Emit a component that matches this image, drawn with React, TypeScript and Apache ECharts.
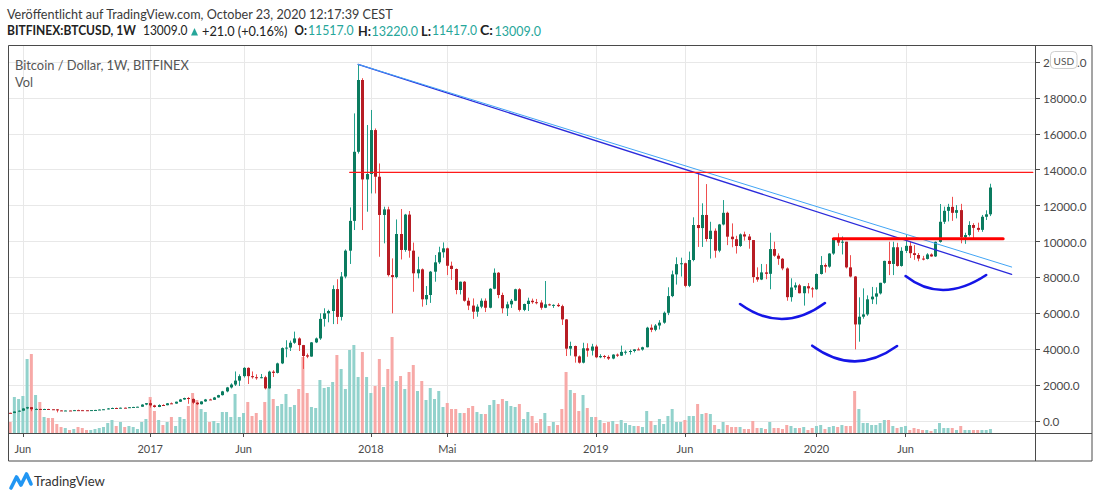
import React, { useEffect, useRef } from "react";
import * as echarts from "echarts";

// ---------- data ----------
const START_DATE = "2016-05-16"; // first weekly candle (Monday)
const EMPTY_WEEKS_RIGHT = 10; // empty weeks to the right of the last candle

// weekly candles [open, high, low, close]
const CANDLES_2016 = [
  [455, 460, 436, 443], [443, 535, 440, 528], [528, 592, 515, 575], [575, 720, 568, 700],
  [700, 790, 660, 770], [770, 780, 545, 655], [655, 705, 615, 672], [672, 680, 630, 645],
  [645, 680, 640, 668], [668, 680, 650, 655], [655, 665, 640, 650], [650, 655, 480, 590],
  [590, 600, 565, 580], [580, 590, 565, 585], [585, 590, 570, 578], [578, 615, 570, 605],
  [605, 630, 600, 603], [603, 615, 595, 600], [600, 608, 590, 598], [598, 612, 595, 608],
  [608, 620, 605, 615], [615, 645, 612, 638], [638, 660, 630, 655], [655, 720, 650, 700],
  [700, 745, 690, 725], [725, 745, 695, 705], [705, 750, 700, 740], [740, 750, 725, 732],
  [732, 775, 728, 768], [768, 790, 755, 782], [782, 800, 770, 795], [795, 935, 790, 915],
  [915, 1000, 880, 995],
];
const CANDLES_2017 = [
  [995, 1180, 750, 870], [870, 905, 745, 780], [780, 930, 770, 890], [890, 930, 870, 880],
  [880, 1000, 875, 985], [985, 1030, 960, 970], [970, 1080, 960, 1075], [1075, 1230, 1060, 1200],
  [1200, 1300, 1180, 1280], [1280, 1330, 960, 1230], [1230, 1260, 940, 1020], [1020, 1060, 890, 935],
  [935, 1100, 920, 1090], [1090, 1230, 1070, 1200], [1200, 1240, 1170, 1180], [1180, 1340, 1170, 1310],
  [1310, 1460, 1300, 1440], [1440, 1680, 1420, 1650], [1650, 1900, 1600, 1870], [1870, 2100, 1810, 2030],
  [2030, 2760, 1950, 2250], [2250, 2600, 1950, 2500], [2500, 3000, 2420, 2960], [2960, 2990, 2060, 2500],
  [2500, 2760, 2360, 2440], [2440, 2600, 2300, 2410], [2410, 2620, 2380, 2440], [2440, 2520, 1760, 1820],
  [1820, 2800, 1800, 2750], [2750, 2830, 2450, 2680], [2680, 3250, 2650, 3210], [3210, 4100, 3170, 4060],
  [4060, 4500, 3550, 4090], [4090, 4480, 3900, 4360], [4360, 4980, 4300, 4600], [4600, 4660, 3900, 4230],
  [4230, 4240, 2900, 3620], [3660, 3760, 3500, 3590], [3590, 4400, 3580, 4380], [4380, 4650, 4340, 4600],
  [4600, 6000, 4520, 5690], [5690, 6280, 5260, 6000], [6000, 6200, 5500, 6130], [6130, 7560, 5400, 7350],
  [7350, 7900, 5400, 5800], [5800, 8300, 5600, 8050], [8050, 9560, 7950, 9490], [9490, 11900, 8750, 11150],
  [11150, 17140, 10640, 15000], [15000, 19870, 14900, 19000], [19000, 19100, 10640, 13460], [13460, 16490, 11660, 13760],
];
const CANDLES_2018 = [
  [13760, 17330, 12680, 16210], [16210, 16300, 12680, 13610], [13610, 14350, 9150, 11480], [11480, 11940, 9900, 11790],
  [11790, 11940, 8050, 8130], [8130, 9060, 6000, 8020], [8020, 11230, 7950, 10420], [10420, 11810, 9000, 9530],
  [9530, 11540, 9430, 11500], [11500, 11700, 9100, 9490], [9490, 9940, 7200, 8230], [8230, 9150, 7950, 8450],
  [8450, 8500, 6370, 6780], [6780, 7520, 6460, 7020], [7020, 8360, 6580, 8320], [8320, 9250, 7760, 8840],
  [8840, 9710, 8750, 9400], [9400, 9950, 9100, 9620], [9620, 9660, 8130, 8650], [8650, 8880, 7860, 8470],
  [8470, 8500, 7060, 7300], [7300, 7770, 7050, 7760], [7760, 7800, 6650, 6700], [6700, 6870, 6180, 6430],
  [6430, 6830, 5690, 6090], [6090, 6500, 5810, 6370], [6370, 6830, 6280, 6700], [6700, 6830, 6070, 6310],
  [6310, 7400, 6280, 7370], [7370, 8500, 7340, 8260], [8260, 8300, 6840, 7020], [7020, 7150, 6000, 6280],
  [6280, 6650, 5850, 6500], [6500, 6800, 6300, 6700], [6700, 7370, 6680, 7340], [7340, 7400, 6100, 6190],
  [6190, 6540, 6120, 6520], [6520, 6870, 6130, 6700], [6700, 6820, 6530, 6620], [6620, 6800, 6500, 6600],
  [6600, 6730, 6200, 6310], [6310, 7800, 6290, 6500], [6500, 6540, 6420, 6450], [6450, 6500, 6300, 6470],
  [6470, 6570, 6350, 6400], [6400, 6480, 5350, 5660], [5660, 5680, 3620, 4030], [4030, 4420, 3640, 4180],
  [4180, 4200, 3250, 3600], [3600, 3650, 3200, 3250], [3250, 4360, 3210, 4050], [4050, 4330, 3580, 3920],
];
const CANDLES_2019 = [
  [3920, 4300, 3650, 4150], [4150, 4250, 3500, 3550], [3550, 3720, 3500, 3620], [3620, 3680, 3480, 3570],
  [3570, 3660, 3400, 3480], [3480, 3720, 3440, 3700], [3700, 3760, 3570, 3640], [3640, 4200, 3620, 3850],
  [3850, 3940, 3700, 3860], [3860, 3980, 3700, 3900], [3900, 4000, 3820, 3990], [3990, 4090, 3950, 3980],
  [3980, 4140, 3920, 4110], [4110, 5250, 4100, 5200], [5200, 5380, 4950, 5080], [5080, 5400, 5000, 5320],
  [5320, 5620, 5100, 5480], [5480, 6100, 5420, 6030], [6030, 7450, 5900, 6960], [6960, 8380, 6900, 8170],
  [8170, 9120, 7600, 8740], [8740, 9100, 8050, 8790], [8790, 8820, 7450, 7530], [7530, 9440, 7460, 8970],
  [8970, 11350, 8900, 10920], [10920, 13850, 9700, 10750], [10750, 12130, 9700, 11480], [11480, 13200, 10000, 10140],
  [10140, 11100, 9050, 10600], [10600, 10730, 9100, 9490], [9490, 10980, 9400, 10950], [10950, 12310, 10900, 11600],
  [11600, 11660, 9800, 10270], [10270, 11010, 9680, 10130], [10130, 10320, 9330, 9750], [9750, 10450, 9700, 10400],
  [10400, 10550, 10050, 10280], [10280, 10420, 9600, 10080], [10080, 10080, 7700, 8020], [8020, 8560, 7760, 7880],
  [7880, 8750, 7850, 8280], [8280, 8740, 7900, 8200], [8200, 10490, 7340, 9580], [9580, 9990, 9150, 9210],
  [9210, 9340, 8700, 9040], [9040, 9080, 8400, 8500], [8500, 8560, 6700, 6900], [6900, 7950, 6650, 7440],
  [7440, 7720, 7300, 7560], [7560, 7640, 7110, 7120], [7120, 7520, 6430, 7510], [7510, 7690, 7110, 7390],
];
const CANDLES_2020 = [
  [7390, 7470, 6880, 7340], [7340, 8220, 7310, 8190], [8190, 9190, 8160, 8690], [8690, 8780, 8270, 8600],
  [8600, 9350, 8540, 9330], [9330, 10180, 9260, 10170], [10170, 10460, 9760, 9940], [9940, 10280, 9280, 9990],
  [9990, 9990, 8500, 8560], [8560, 9240, 8000, 8050], [8050, 8080, 3990, 5380], [5380, 6890, 4420, 5810],
  [5810, 7390, 5700, 5940], [5940, 7000, 5860, 6780], [6780, 7470, 6520, 6930], [6930, 7450, 6500, 7110],
  [7110, 7700, 7050, 7700], [7700, 8930, 7650, 8920], [8920, 9990, 8130, 8750], [8750, 9990, 8130, 9680],
  [9680, 9930, 8600, 8640], [8640, 9680, 8600, 9480], [9480, 10360, 9360, 9760], [9760, 10000, 9080, 9350],
  [9350, 9800, 8980, 9250], [9250, 9360, 8900, 9050], [9050, 9200, 8950, 9030], [9030, 9350, 9000, 9280],
  [9280, 9340, 9150, 9170], [9170, 10000, 9140, 9980], [9980, 12090, 9940, 11100], [11100, 11940, 10980, 11710],
  [11710, 12100, 11120, 11930], [11930, 12490, 11150, 11600], [11600, 12030, 11290, 11750], [11750, 12100, 9900, 10240],
  [10240, 10490, 9870, 10360], [10360, 11130, 10280, 10920], [10920, 11020, 10180, 10760], [10760, 11050, 10540, 10650],
  [10650, 11480, 10540, 11380], [11380, 11740, 11200, 11517], [11517, 13220, 11417, 13009],
];

// weekly volume (thousand BTC)
const VOLUME_2016 = [11, 36, 34, 37, 74, 79, 38, 31, 16, 15, 15, 9, 6, 5, 3, 4, 6, 5, 3, 3, 4, 5, 6, 10, 13, 7, 11, 6, 7, 6, 4, 11, 14];
const VOLUME_2017 = [36, 22, 13, 8, 11, 16, 7, 16, 14, 27, 40, 33, 24, 21, 11, 12, 10, 21, 21, 16, 39, 16, 20, 31, 17, 20, 13, 31, 45, 34, 27, 29, 39, 26, 28, 44, 76, 40, 26, 25, 53, 45, 46, 51, 78, 64, 44, 83, 88, 56, 81, 56];
const VOLUME_2018 = [40, 47, 74, 46, 64, 96, 52, 57, 44, 61, 68, 42, 52, 33, 45, 34, 42, 26, 30, 24, 24, 20, 20, 25, 27, 21, 19, 19, 28, 33, 29, 34, 32, 27, 26, 29, 14, 21, 17, 10, 14, 20, 7, 11, 8, 24, 61, 43, 40, 22, 38, 25];
const VOLUME_2019 = [16, 16, 13, 10, 11, 12, 9, 13, 10, 8, 7, 7, 6, 22, 12, 8, 14, 9, 17, 24, 11, 11, 13, 17, 17, 29, 19, 20, 19, 8, 4, 11, 8, 6, 6, 6, 4, 4, 12, 5, 5, 4, 11, 5, 5, 4, 8, 7, 5, 5, 6, 3];
const VOLUME_2020 = [5, 7, 8, 4, 6, 7, 6, 8, 7, 7, 42, 24, 10, 10, 8, 8, 10, 13, 13, 7, 5, 6, 7, 3, 5, 4, 3, 3, 2, 4, 10, 5, 5, 5, 3, 7, 3, 3, 3, 3, 3, 3, 4];

// time-axis labels: [week, label]
const TIME_TICKS: [string, string][] = [
  ["2016-06-06", "Jun"], ["2017-01-02", "2017"], ["2017-06-05", "Jun"], ["2018-01-01", "2018"],
  ["2018-05-07", "Mai"], ["2019-01-07", "2019"], ["2019-06-03", "Jun"], ["2020-01-06", "2020"], ["2020-06-01", "Jun"],
];
const PRICE_STEP = 2000;
const PRICE_MAX = 20950;
const VOLUME_MAX = 388;

// drawings (in data coordinates)
const TREND_LINES: [[string, number], [string, number]][] = [
  [["2017-12-11", 19872], ["2020-11-23", 8173]],
  [["2017-12-11", 19872], ["2020-11-23", 8579]],
];
const LEVELS: [string, string, number][] = [
  ["2017-11-27", "2020-12-28", 13855],
  ["2020-02-03", "2020-11-09", 10156],
];
const ARCS: [string, number][][] = [
  [["2019-09-02", 6518], ["2019-11-11", 5682], ["2020-01-20", 6574]],
  [["2019-12-30", 4195], ["2020-03-09", 3326], ["2020-05-18", 4178]],
  [["2020-06-01", 8078], ["2020-08-03", 7298], ["2020-10-12", 8134]],
];

// ---------- derived ----------
const CANDLES = [...CANDLES_2016, ...CANDLES_2017, ...CANDLES_2018, ...CANDLES_2019, ...CANDLES_2020];
const VOLUME = [...VOLUME_2016, ...VOLUME_2017, ...VOLUME_2018, ...VOLUME_2019, ...VOLUME_2020];

const DATES: string[] = (() => {
  const out: string[] = [];
  const [y, m, d] = START_DATE.split("-").map(Number);
  const t0 = Date.UTC(y, m - 1, d);
  for (let k = 0; k < CANDLES.length + EMPTY_WEEKS_RIGHT; k++) {
    out.push(new Date(t0 + k * 7 * 86400000).toISOString().slice(0, 10));
  }
  return out;
})();
const idx = (date: string) => DATES.indexOf(date);
const TICK_LABEL: Record<string, string> = Object.fromEntries(TIME_TICKS);
const TICK_INDEX = new Set(TIME_TICKS.map(([d]) => idx(d)));

const UP_BODY = "#0b7b5f";
const UP_WICK = "#22a08c";
const DOWN_BODY = "#b71c24";
const DOWN_WICK = "#ef4f4f";
const UP_VOL = "#92d2cc";
const DOWN_VOL = "#f7a9a7";
const TEAL = "#26a69a";
const FAMILY = "Lato, 'Noto Sans', sans-serif";
const FRAME = "#4a4a4a";

let measureCtx: CanvasRenderingContext2D | null = null;
function fitScale(text: string, font: string, width: number) {
  if (!measureCtx) measureCtx = document.createElement("canvas").getContext("2d");
  if (!measureCtx) return 1;
  measureCtx.font = font;
  const w = measureCtx.measureText(text).width;
  if (!w) return 1;
  return Math.max(0.7, Math.min(1.15, width / w));
}
function label(text: string, x: number, y: number, width: number, size: number, color: string, bold = false) {
  const font = `${bold ? "bold " : ""}${size}px ${FAMILY}`;
  return {
    type: "text",
    x,
    y,
    scaleX: fitScale(text, font, width),
    z: 100,
    silent: true,
    style: { text, font, fill: color, align: "left", verticalAlign: "middle" },
  };
}

function buildOption() {
  const candleData = CANDLES.map(([o, h, l, c], i) => [i, o, h, l, c]);
  const volData = VOLUME.map((v, i) => ({
    value: v,
    itemStyle: { color: CANDLES[i][3] >= CANDLES[i][0] ? UP_VOL : DOWN_VOL },
  }));

  const lineSeries = (data: number[][], stroke: string, lineWidth: number) => ({
    type: "custom",
    xAxisIndex: 0,
    yAxisIndex: 0,
    z: 5,
    silent: true,
    clip: false,
    encode: { x: [0, 2], y: [1, 3] },
    data,
    renderItem: (_p: any, api: any) => {
      const a = api.coord([api.value(0), api.value(1)]);
      const b = api.coord([api.value(2), api.value(3)]);
      return {
        type: "line",
        shape: { x1: a[0], y1: a[1], x2: b[0], y2: b[1] },
        style: { stroke, lineWidth, lineCap: "round" },
      };
    },
  });

  return {
    animation: false,
    backgroundColor: "#ffffff",
    grid: [
      { left: 8, top: 45, width: 1027, height: 376 },
      { left: 8, top: 45, width: 1027, height: 388 },
    ],
    xAxis: [
      { type: "category", gridIndex: 0, data: DATES, boundaryGap: true, show: false },
      {
        type: "category",
        gridIndex: 1,
        data: DATES,
        boundaryGap: true,
        axisLine: { show: false },
        axisTick: {
          show: true,
          alignWithLabel: true,
          length: 4,
          interval: (i: number) => TICK_INDEX.has(i),
          lineStyle: { color: FRAME },
        },
        axisLabel: {
          interval: (i: number) => TICK_INDEX.has(i),
          formatter: (v: string) => TICK_LABEL[v] || "",
          color: "#4a4a4a",
          fontSize: 11,
          fontFamily: FAMILY,
          margin: 10,
        },
        splitLine: { show: false },
      },
    ],
    yAxis: [
      {
        type: "value",
        gridIndex: 0,
        position: "right",
        min: 0,
        max: PRICE_MAX,
        interval: PRICE_STEP,
        axisLine: { show: false },
        axisTick: { show: true, length: 5, lineStyle: { color: FRAME } },
        axisLabel: {
          formatter: (v: number) => (v % PRICE_STEP === 0 ? v.toFixed(1) : ""),
          color: "#4a4a4a",
          fontSize: 11.7,
          fontFamily: FAMILY,
          margin: 8,
        },
        splitLine: { show: true, lineStyle: { color: "#e8e8e8", width: 1 } },
      },
      { type: "value", gridIndex: 1, min: 0, max: VOLUME_MAX, show: false, splitLine: { show: false } },
    ],
    series: [
      {
        type: "custom",
        name: "grid",
        xAxisIndex: 1,
        yAxisIndex: 1,
        z: 0,
        silent: true,
        data: [...TICK_INDEX].map((i) => [i, 0]),
        encode: { x: 0, y: 1 },
        renderItem: (params: any, api: any) => {
          const x = Math.round(api.coord([api.value(0), 0])[0]) + 0.5;
          const cs = params.coordSys;
          return {
            type: "line",
            shape: { x1: x, y1: cs.y, x2: x, y2: cs.y + cs.height },
            style: { stroke: "#e8e8e8", lineWidth: 1 },
          };
        },
      },
      {
        type: "bar",
        name: "Vol",
        xAxisIndex: 1,
        yAxisIndex: 1,
        z: 1,
        barWidth: 3,
        silent: true,
        data: volData,
      },
      {
        type: "custom",
        name: "BTCUSD",
        xAxisIndex: 0,
        yAxisIndex: 0,
        z: 3,
        silent: true,
        encode: { x: 0, y: [1, 2, 3, 4] },
        data: candleData,
        renderItem: (_p: any, api: any) => {
          const i = api.value(0);
          const o = api.value(1);
          const h = api.value(2);
          const l = api.value(3);
          const c = api.value(4);
          const up = c >= o;
          const pO = api.coord([i, o]);
          const pC = api.coord([i, c]);
          const pH = api.coord([i, h]);
          const pL = api.coord([i, l]);
          const xr = Math.round(pO[0]);
          const top = Math.min(pO[1], pC[1]);
          const hgt = Math.max(1, Math.abs(pO[1] - pC[1]));
          return {
            type: "group",
            children: [
              {
                type: "line",
                shape: { x1: xr + 0.5, y1: pH[1], x2: xr + 0.5, y2: pL[1] },
                style: { stroke: up ? UP_WICK : DOWN_WICK, lineWidth: 1 },
              },
              {
                type: "rect",
                shape: { x: xr - 1, y: top, width: 3, height: hgt },
                style: { fill: up ? UP_BODY : DOWN_BODY },
              },
            ],
          };
        },
      },
      lineSeries([[idx(TREND_LINES[0][0][0]), TREND_LINES[0][0][1], idx(TREND_LINES[0][1][0]), TREND_LINES[0][1][1]]], "#2b2bdb", 1.3),
      lineSeries([[idx(TREND_LINES[1][0][0]), TREND_LINES[1][0][1], idx(TREND_LINES[1][1][0]), TREND_LINES[1][1][1]]], "#42a5f5", 1),
      lineSeries([[idx(LEVELS[0][0]), LEVELS[0][2], idx(LEVELS[0][1]), LEVELS[0][2]]], "#ff1a1a", 1.2),
      lineSeries([[idx(LEVELS[1][0]), LEVELS[1][2], idx(LEVELS[1][1]), LEVELS[1][2]]], "#ff0000", 3),
      {
        type: "custom",
        name: "arcs",
        xAxisIndex: 0,
        yAxisIndex: 0,
        z: 5,
        silent: true,
        clip: false,
        encode: { x: [0, 2, 4], y: [1, 3, 5] },
        data: ARCS.map((arc) => arc.flatMap(([d, v]) => [idx(d), v])),
        renderItem: (_p: any, api: any) => {
          const a = api.coord([api.value(0), api.value(1)]);
          const m = api.coord([api.value(2), api.value(3)]);
          const b = api.coord([api.value(4), api.value(5)]);
          const cpx = 2 * m[0] - (a[0] + b[0]) / 2;
          const cpy = 2 * m[1] - (a[1] + b[1]) / 2;
          return {
            type: "bezierCurve",
            shape: { x1: a[0], y1: a[1], x2: b[0], y2: b[1], cpx1: cpx, cpy1: cpy },
            style: { stroke: "#1515e6", lineWidth: 2.6, fill: "none", lineCap: "round" },
          };
        },
      },
    ],
    graphic: [
      // pane frame
      { type: "rect", z: 90, silent: true, shape: { x: 8.5, y: 45.5, width: 1083.5, height: 415.5 }, style: { fill: "none", stroke: FRAME, lineWidth: 1 } },
      { type: "line", z: 90, silent: true, shape: { x1: 1035.5, y1: 45, x2: 1035.5, y2: 461 }, style: { stroke: FRAME, lineWidth: 1 } },
      { type: "line", z: 90, silent: true, shape: { x1: 8, y1: 433.5, x2: 1092, y2: 433.5 }, style: { stroke: FRAME, lineWidth: 1 } },
      // header
      label("Veröffentlicht auf TradingView.com, October 23, 2020 12:17:39 CEST", 7, 14, 387, 13, "#3a3a3a"),
      label("BITFINEX:BTCUSD, 1W", 7, 30.5, 129, 13, "#222222", true),
      label("13009.0", 143, 30.5, 44.5, 13, "#222222"),
      { type: "polygon", z: 100, silent: true, shape: { points: [[191, 35.5], [198, 35.5], [194.5, 28]] }, style: { fill: TEAL } },
      label("+21.0 (+0.16%)", 202, 30.5, 85.5, 13, "#222222"),
      label("O:", 294.6, 30.5, 12.4, 13, "#222222", true),
      label("11517.0", 308, 30.5, 45.6, 13, TEAL),
      label("H:", 358, 30.5, 13, 13, "#222222", true),
      label("13220.0", 371.4, 30.5, 46.6, 13, TEAL),
      label("L:", 421, 30.5, 10, 13, "#222222", true),
      label("11417.0", 432, 30.5, 45, 13, TEAL),
      label("C:", 480, 30.5, 13, 13, "#222222", true),
      label("13009.0", 494.6, 30.5, 46.4, 13, TEAL),
      // pane legend
      label("Bitcoin / Dollar, 1W, BITFINEX", 15, 65, 174, 13, "#555555"),
      label("Vol", 15, 82, 18, 13, "#555555"),
      // currency badge
      { type: "rect", z: 110, silent: true, shape: { x: 1050.5, y: 51.5, width: 26.5, height: 17, r: 4 }, style: { fill: "#ffffff", stroke: "#cfcfcf", lineWidth: 1 } },
      { type: "text", z: 111, silent: true, x: 1063.8, y: 60.5, style: { text: "USD", font: `10px ${FAMILY}`, fill: "#555555", align: "center", verticalAlign: "middle" } },
      // TradingView logo
      {
        type: "polyline",
        z: 100,
        silent: true,
        shape: { points: [[11, 488], [16.5, 477], [21, 485], [26.5, 474], [31, 484]] },
        style: { stroke: "#2196f3", lineWidth: 3.6, lineJoin: "round", lineCap: "round", fill: "none" },
      },
      label("TradingView", 34, 481, 71, 13, "#333333"),
    ],
  };
}

export default function App() {
  const ref = useRef<HTMLDivElement>(null);
  useEffect(() => {
    document.body.style.margin = "0";
    if (!ref.current) return;
    const chart = echarts.init(ref.current, undefined, { renderer: "svg" });
    chart.setOption(buildOption() as any);
    return () => chart.dispose();
  }, []);
  return <div ref={ref} style={{ width: 1100, height: 498, background: "#ffffff" }} />;
}
